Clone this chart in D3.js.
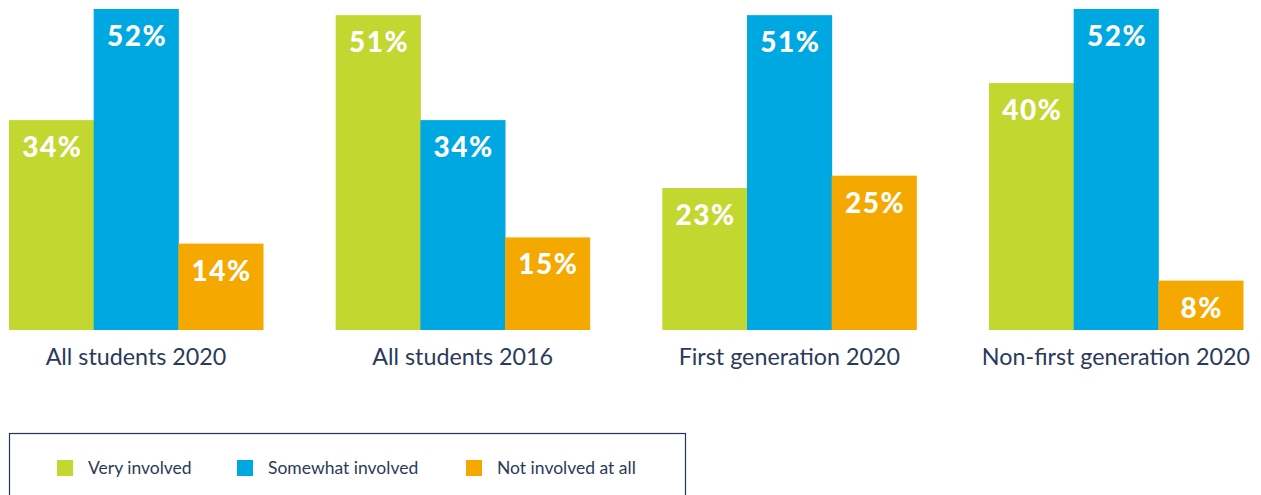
<!DOCTYPE html>
<html>
<head>
<meta charset="utf-8">
<script src="https://cdn.jsdelivr.net/npm/d3@7"></script>
<style>
  body { margin: 0; background: #fff; }
  svg { display: block; }
</style>
</head>
<body>
<div id="chart"></div>
<script>
var groups = ["All students 2020", "All students 2016", "First generation 2020", "Non-first generation 2020"];
var series = ["Very involved", "Somewhat involved", "Not involved at all"];
var veryInvolved = [34, 51, 23, 40];
var somewhatInvolved = [52, 34, 51, 52];
var notInvolved = [14, 15, 25, 8];
var colors = ["#c2d72f", "#00a8e1", "#f5a800"];

var width = 1261, height = 495;
var baseline = 330;

var svg = d3.select("#chart").append("svg")
	.attr("width", width)
	.attr("height", height);

var x0 = d3.scaleBand()
	.domain(groups)
	.range([9, 1243])
	.paddingInner(0.2224)
	.paddingOuter(0);

var x1 = d3.scaleBand()
	.domain(series)
	.range([0, x0.bandwidth()])
	.padding(0);

var y = d3.scaleLinear()
	.domain([0, 52])
	.range([baseline, 9]);

var data = groups.map(function(g, i) {
	return {
		group: g,
		values: [veryInvolved[i], somewhatInvolved[i], notInvolved[i]].map(function(v, j) {
			return { key: series[j], value: v, color: colors[j] };
		})
	};
});

var g = svg.selectAll(".group")
	.data(data)
	.enter().append("g")
	.attr("class", "group")
	.attr("transform", function(d) { return "translate(" + x0(d.group) + ",0)"; });

g.selectAll("rect")
	.data(function(d) { return d.values; })
	.enter().append("rect")
	.attr("x", function(d) { return x1(d.key); })
	.attr("y", function(d) { return y(d.value); })
	.attr("width", x1.bandwidth() + 0.5)
	.attr("height", function(d) { return baseline - y(d.value); })
	.attr("fill", function(d) { return d.color; });

g.selectAll(".val")
	.data(function(d) { return d.values; })
	.enter().append("text")
	.attr("class", "val")
	.attr("x", function(d) { return x1(d.key) + x1.bandwidth() / 2 + 1; })
	.attr("y", function(d) { return y(d.value) + 37; })
	.attr("text-anchor", "middle")
	.attr("fill", "#fff")
	.style("font-family", "Lato, 'Open Sans', sans-serif")
	.style("font-weight", 900)
	.style("font-size", "28px")
	.style("letter-spacing", "1.5px")
	.text(function(d) { return d.value + "%"; });

// category labels
svg.selectAll(".cat")
	.data(groups)
	.enter().append("text")
	.attr("class", "cat")
	.attr("x", function(d) { return x0(d) + x0.bandwidth() / 2; })
	.attr("y", 365)
	.attr("text-anchor", "middle")
	.attr("fill", "#2b3a5a")
	.style("font-family", "Lato, 'Open Sans', sans-serif")
	.style("font-size", "23.3px")
	.text(function(d) { return d; });

// legend
var legend = svg.append("g");
legend.append("rect")
	.attr("x", 9.5)
	.attr("y", 433.5)
	.attr("width", 676)
	.attr("height", 80)
	.attr("fill", "none")
	.attr("stroke", "#23365a")
	.attr("stroke-width", 1.2);

var legendX = [57, 237, 466];
var li = legend.selectAll(".li")
	.data(series)
	.enter().append("g")
	.attr("class", "li")
	.attr("transform", function(d, i) { return "translate(" + legendX[i] + ",460)"; });

li.append("rect")
	.attr("width", 16)
	.attr("height", 16)
	.attr("fill", function(d, i) { return colors[i]; });

li.append("text")
	.attr("x", 31)
	.attr("y", 14)
	.attr("fill", "#2b3a5a")
	.style("font-family", "Lato, 'Open Sans', sans-serif")
	.style("font-size", "17.5px")
	.text(function(d) { return d; });
</script>
</body>
</html>
